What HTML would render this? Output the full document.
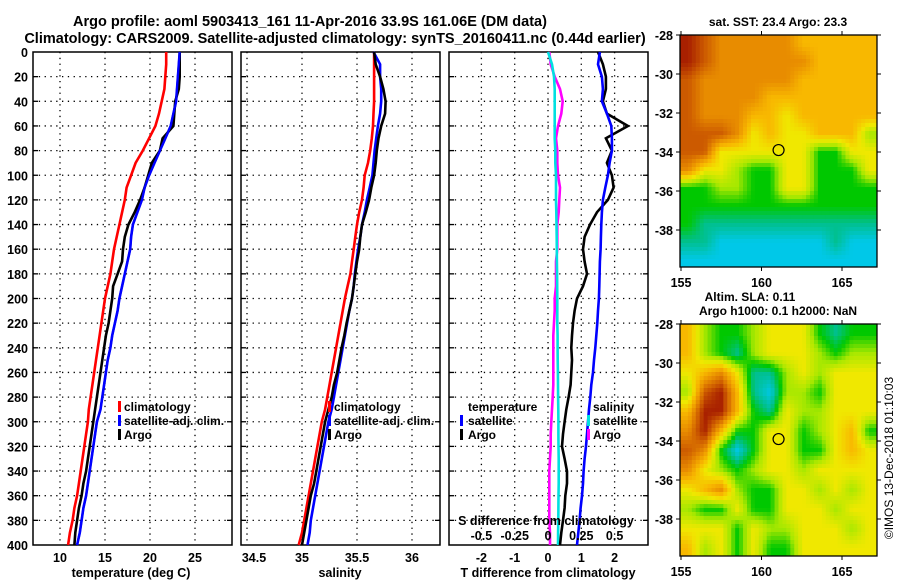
<!DOCTYPE html>
<html><head><meta charset="utf-8">
<style>
body{margin:0;background:#fff;}
svg{display:block;font-family:"Liberation Sans",Arial,sans-serif;font-weight:bold;}
</style></head>
<body>
<svg id="fig" width="900" height="580" viewBox="0 0 900 580" xmlns="http://www.w3.org/2000/svg">
<rect width="900" height="580" fill="#fff"/>
<text x="310" y="26" font-size="14.5" text-anchor="middle">Argo profile: aoml 5903413_161 11-Apr-2016 33.9S 161.06E (DM data)</text>
<text x="335" y="43" font-size="14.5" text-anchor="middle">Climatology: CARS2009. Satellite-adjusted climatology: synTS_20160411.nc (0.44d earlier)</text>
<g id="g"></g>
</svg>
<script>
// ---- data ----
const depths = [0,10,20,30,40,50,60,70,80,90,100,110,120,130,140,150,160,170,180,190,200,210,220,230,240,250,260,270,280,290,300,310,320,330,340,350,360,370,380,390,400];
const tempClim = [21.8,21.8,21.7,21.6,21.3,21.0,20.6,19.9,19.2,18.4,17.9,17.4,17.2,16.9,16.6,16.3,16.0,15.8,15.6,15.3,15.0,14.8,14.6,14.4,14.2,14.0,13.8,13.6,13.4,13.2,13.1,12.9,12.7,12.5,12.3,12.1,11.9,11.6,11.4,11.1,10.9];
const tempSat = [23.3,23.2,23.1,23.0,22.9,22.6,22.3,21.7,21.1,20.5,19.9,19.4,19.1,18.6,18.1,17.9,17.8,17.5,17.2,16.9,16.6,16.4,16.1,15.8,15.6,15.3,15.1,14.9,14.7,14.5,14.1,13.9,13.7,13.5,13.3,13.1,12.9,12.6,12.4,12.2,11.9];
const tempArgo = [23.3,23.3,23.3,23.2,22.8,22.7,22.6,21.4,21.1,20.2,19.8,19.4,18.9,18.3,17.6,17.2,17.0,16.9,16.4,15.9,15.8,15.6,15.4,15.1,14.9,14.7,14.5,14.3,14.1,13.9,13.7,13.5,13.3,13.1,12.9,12.6,12.4,12.1,11.9,11.7,11.6];
const salClim = [35.655,35.655,35.655,35.655,35.655,35.65,35.645,35.635,35.62,35.6,35.57,35.56,35.545,35.52,35.5,35.485,35.47,35.455,35.44,35.415,35.39,35.37,35.35,35.33,35.31,35.29,35.27,35.25,35.23,35.21,35.18,35.16,35.14,35.12,35.1,35.08,35.06,35.04,35.02,35.0,34.97];
const salSat = [35.65,35.71,35.71,35.72,35.72,35.71,35.69,35.675,35.66,35.65,35.64,35.615,35.59,35.57,35.545,35.53,35.51,35.495,35.48,35.47,35.455,35.43,35.41,35.39,35.37,35.35,35.33,35.31,35.29,35.27,35.24,35.22,35.2,35.18,35.16,35.14,35.12,35.1,35.08,35.07,35.05];
const salArgo = [35.655,35.67,35.71,35.74,35.76,35.755,35.72,35.695,35.68,35.67,35.655,35.63,35.61,35.58,35.545,35.53,35.52,35.5,35.485,35.47,35.455,35.43,35.405,35.385,35.36,35.34,35.32,35.29,35.27,35.24,35.21,35.19,35.17,35.15,35.13,35.11,35.08,35.06,35.04,35.02,35.0];
const tDiffSat = [1.56,1.5,1.62,1.65,1.62,1.77,1.9,1.92,1.92,1.85,1.8,1.72,1.65,1.62,1.6,1.59,1.58,1.56,1.55,1.54,1.53,1.5,1.48,1.45,1.42,1.38,1.35,1.3,1.27,1.23,1.2,1.17,1.14,1.1,1.07,1.05,1.02,0.98,0.95,0.91,0.87];
const tDiffArgo = [1.5,1.65,1.74,1.74,1.65,1.77,2.4,1.74,1.92,1.77,1.92,1.97,1.8,1.47,1.26,1.1,1.05,1.1,1.17,1.05,0.87,0.8,0.75,0.72,0.7,0.72,0.7,0.68,0.62,0.55,0.5,0.45,0.42,0.5,0.57,0.57,0.52,0.5,0.45,0.4,0.36];
const sDiffSat = [0,0.03,0.045,0.05,0.05,0.05,0.05,0.05,0.055,0.055,0.06,0.06,0.06,0.062,0.064,0.065,0.066,0.067,0.068,0.069,0.07,0.07,0.07,0.072,0.072,0.073,0.074,0.075,0.076,0.077,0.078,0.078,0.079,0.08,0.08,0.08,0.079,0.078,0.077,0.076,0.075];
const sDiffArgo = [0.01,0.02,0.05,0.09,0.11,0.1,0.075,0.06,0.07,0.07,0.075,0.09,0.085,0.08,0.07,0.07,0.07,0.06,0.06,0.06,0.05,0.05,0.045,0.04,0.04,0.04,0.04,0.04,0.035,0.03,0.025,0.02,0.02,0.015,0.01,0.01,0.01,0.01,0.01,0.015,0.015];
const depthTicks = [0,20,40,60,80,100,120,140,160,180,200,220,240,260,280,300,320,340,360,380,400];
const tempTicks = [10,15,20,25];
const salTicks = [34.5,35,35.5,36];
const salTickLabels = ["34.5","35","35.5","36"];
const tdTicks = [-2,-1,0,1,2];
const sdTicks = [-0.5,-0.25,0,0.25,0.5];
const sdTickLabels = ["-0.5","-0.25","0","0.25","0.5"];
const lonTicks = [155,160,165];
const latTicks = [-28,-30,-32,-34,-36,-38];
// SST map grid (colour index 0..10 hex), rows from -28 southwards, cols from 155 eastwards
const sstGrid = ["a98888877777","a98888887777","988888877777","988887777777","988877677777","999867667775","996666664466","866544664446","445544664444","444444444444","433333333333","332222222322","222222222222"];
const slaGrid = ["754456664344","754356665455","678633565666","59a732554666","7aa743655666","8a7446645674","984246644676","865456656666","678544665656","544644666566","666465566656","756464466666"];
const cmap = ["#0020c0","#0090ff","#00c8e8","#00c090","#00c800","#a8e800","#f0e800","#f8b800","#e88c00","#cc5a00","#a82000"];
const floatLon = 161.06, floatLat = -33.9;

// ---- helpers ----
const NS = "http://www.w3.org/2000/svg";
const G = document.getElementById('g');
function mk(tag, attrs, parent){ const e=document.createElementNS(NS,tag); for(const k in attrs) e.setAttribute(k,attrs[k]); (parent||G).appendChild(e); return e; }
function txt(x,y,s,anchor,size,name){ const t=mk('text',{x:x,y:y,'font-size':size||12,'text-anchor':anchor||'middle'}); t.textContent=s;


return t; }

const PT=52, PB=545;
const yD = d => PT + d*(PB-PT)/400;

function panel(name){
  const g=mk('g',{});
  
  
  return g;
}
function frame(g,x0,x1,gridXs){
  depthTicks.forEach(d=>{ if(d>0&&d<400){
    const l=mk('line',{x1:x0,x2:x1,y1:yD(d),y2:yD(d),stroke:'#000','stroke-width':1.3,'stroke-dasharray':'1.3,4.5'},g);
     
    mk('line',{x1:x0,x2:x0+5,y1:yD(d),y2:yD(d),stroke:'#000','stroke-width':1.3},g);
    mk('line',{x1:x1-5,x2:x1,y1:yD(d),y2:yD(d),stroke:'#000','stroke-width':1.3},g);
  }});
  gridXs.forEach(x=>{ if(x>x0+2&&x<x1-2){
    const l=mk('line',{x1:x,x2:x,y1:PT,y2:PB,stroke:'#000','stroke-width':1.3,'stroke-dasharray':'1.3,4.5'},g);
     
  }});
  const r=mk('rect',{x:x0,y:PT,width:x1-x0,height:PB-PT,fill:'none',stroke:'#000','stroke-width':1.5},g);
   
}
function line(g,xs,xfn,color,name,w){
  const pts=depths.map((d,i)=>xfn(xs[i]).toFixed(1)+','+yD(d).toFixed(1)).join(' ');
  const p=mk('polyline',{points:pts,fill:'none',stroke:color,'stroke-width':w||2.6,'stroke-linejoin':'miter'},g);
  
  
}
function legendBar(g,x,y,color){ mk('rect',{x:x,y:y-10,width:3,height:11,fill:color},g); }

// ---- panel 1: temperature ----
const xT = t => 60 + (t-10)*9;
const p1=panel('temperature-panel');
frame(p1,33,232,tempTicks.map(xT));
line(p1,tempClim,xT,'#ff0000','temp-climatology-line');
line(p1,tempSat,xT,'#0000ff','temp-satellite-line');
line(p1,tempArgo,xT,'#000000','temp-argo-line');
line(p1,tempSat,xT,'#0000ff','temp-satellite-line-top',2.2);
depthTicks.forEach(d=>txt(28,yD(d)+5,String(d),'end',12.5,'depth-tick-label'));
tempTicks.forEach(t=>txt(xT(t),562,String(t),'middle',12.5,'temp-tick-label'));
txt(131,577,'temperature (deg C)','middle',12.5,'temp-axis-title');
legendBar(p1,118,411,'#ff0000'); txt(124,411,'climatology','start',12,'legend-climatology');
legendBar(p1,118,425,'#0000ff'); txt(124,425,'satellite-adj. clim.','start',12,'legend-satellite');
legendBar(p1,118,439,'#000000'); txt(124,439,'Argo','start',12,'legend-argo');

// ---- panel 2: salinity ----
const xS = s => 302 + (s-35)*110;
const p2=panel('salinity-panel');
frame(p2,241,440,salTicks.map(xS));
line(p2,salClim,xS,'#ff0000','sal-climatology-line');
line(p2,salSat,xS,'#0000ff','sal-satellite-line');
line(p2,salArgo,xS,'#000000','sal-argo-line');
salTicks.forEach((s,i)=>txt(Math.max(xS(s),254),562,salTickLabels[i],'middle',12.5,'sal-tick-label'));
txt(340,577,'salinity','middle',12.5,'sal-axis-title');
legendBar(p2,328,411,'#ff0000'); txt(334,411,'climatology','start',12,'legend-climatology');
legendBar(p2,328,425,'#0000ff'); txt(334,425,'satellite-adj. clim.','start',12,'legend-satellite');
legendBar(p2,328,439,'#000000'); txt(334,439,'Argo','start',12,'legend-argo');

// ---- panel 3: differences ----
const xTd = t => 548 + t*33.3;
const xSd = s => 548 + s*133.2;
const p3=panel('difference-panel');
frame(p3,449,648,tdTicks.map(xTd));
line(p3,sDiffArgo,xSd,'#ff00ff','sdiff-argo-line');
line(p3,sDiffSat,xSd,'#00e0e0','sdiff-satellite-line');
line(p3,tDiffArgo,xTd,'#000000','tdiff-argo-line');
line(p3,tDiffSat,xTd,'#0000ff','tdiff-satellite-line');
tdTicks.forEach(t=>txt(xTd(t),562,String(t),'middle',12.5,'tdiff-tick-label'));
txt(548,577,'T difference from climatology','middle',12.5,'tdiff-axis-title');
txt(546,525,'S difference from climatology','middle',12.5,'sdiff-axis-title');
sdTicks.forEach((s,i)=>txt(xSd(s),540,sdTickLabels[i],'middle',12.5,'sdiff-tick-label'));
txt(468,411,'temperature','start',12,'legend-temperature');
legendBar(p3,460,425,'#0000ff'); txt(468,425,'satellite','start',12,'legend-t-satellite');
legendBar(p3,460,439,'#000000'); txt(468,439,'Argo','start',12,'legend-t-argo');
txt(593,411,'salinity','start',12,'legend-salinity');
legendBar(p3,587,425,'#00e0e0'); txt(593,425,'satellite','start',12,'legend-s-satellite');
legendBar(p3,587,439,'#ff00ff'); txt(593,439,'Argo','start',12,'legend-s-argo');

// ---- maps ----
function hex2rgb(h){ return [parseInt(h.substr(1,2),16),parseInt(h.substr(3,2),16),parseInt(h.substr(5,2),16)]; }
function colourOf(v){
  v=Math.max(0,Math.min(cmap.length-1,v));
  const i=Math.min(cmap.length-2,Math.floor(v)), f=v-i;
  const a=hex2rgb(cmap[i]), b=hex2rgb(cmap[i+1]);
  return 'rgb('+a.map((x,k)=>Math.round(x+(b[k]-x)*f)).join(',')+')';
}
function map(top,grid,name){
  const L=680,R=877,T=top,B=top+232;
  const lonX = lon => 681 + (lon-155)*16.1;
  const latY = lat => T + (-28-lat)*19.5;
  const g=mk('g',{});
  
  
  const vals=grid.map(r=>r.split('').map(ch=>parseInt(ch,16)));
  const rows=vals.length, cols=vals[0].length;
  const NX=50, NY=58;
  const cw=(R-L)/NX, ch=(B-T)/NY;
  const cellLatSpan = 12/rows;
  for(let r=0;r<NY;r++){ for(let c=0;c<NX;c++){
    const u=Math.max(0,Math.min(cols-1,(c+0.5)/NX*cols-0.5));
    const vr=Math.max(0,Math.min(rows-1,((r+0.5)/NY*(B-T))/19.5/cellLatSpan-0.5));
    const i0=Math.floor(u), j0=Math.floor(vr), i1=Math.min(cols-1,i0+1), j1=Math.min(rows-1,j0+1);
    const fu=u-i0, fv=vr-j0;
    const v=(vals[j0][i0]*(1-fu)+vals[j0][i1]*fu)*(1-fv)+(vals[j1][i0]*(1-fu)+vals[j1][i1]*fu)*fv;
    const cell=mk('rect',{x:(L+c*cw).toFixed(2),y:(T+r*ch).toFixed(2),width:(cw+0.5).toFixed(2),height:(ch+0.5).toFixed(2),fill:colourOf(v)},g);
    
    
  }}
  const fr=mk('rect',{x:L,y:T,width:R-L,height:B-T,fill:'none',stroke:'#000','stroke-width':1.3},g);
   
  latTicks.forEach(lat=>{ const y=latY(lat);
    mk('line',{x1:L-4,x2:L,y1:y,y2:y,stroke:'#000'},g); mk('line',{x1:R,x2:R+4,y1:y,y2:y,stroke:'#000'},g);
    txt(673,y+5,String(lat),'end',12.5,'map-lat-label'); });
  lonTicks.forEach(lon=>{ const x=lonX(lon);
    mk('line',{x1:x,x2:x,y1:B,y2:B+4,stroke:'#000'},g); mk('line',{x1:x,x2:x,y1:T-4,y2:T,stroke:'#000'},g);
    txt(x,B+20,String(lon),'middle',12.5,'map-lon-label'); });
  const c=mk('circle',{cx:lonX(floatLon),cy:latY(floatLat),r:5.5,fill:'none',stroke:'#000','stroke-width':1.2},g);
   
}
map(35,sstGrid,'sst-map');
map(324,slaGrid,'sla-map');
txt(778,26,'sat. SST: 23.4 Argo: 23.3','middle',12,'sst-map-title');
txt(750,301,'Altim. SLA: 0.11','middle',12,'sla-map-title');
txt(778,315,'Argo h1000: 0.1 h2000: NaN','middle',12,'sla-map-subtitle');
const cr=txt(0,0,'©IMOS 13-Dec-2018 01:10:03','middle',12,'copyright-label');
cr.setAttribute('font-weight','normal');
cr.setAttribute('transform','translate(893,458) rotate(-90)');
</script>
</body></html>
